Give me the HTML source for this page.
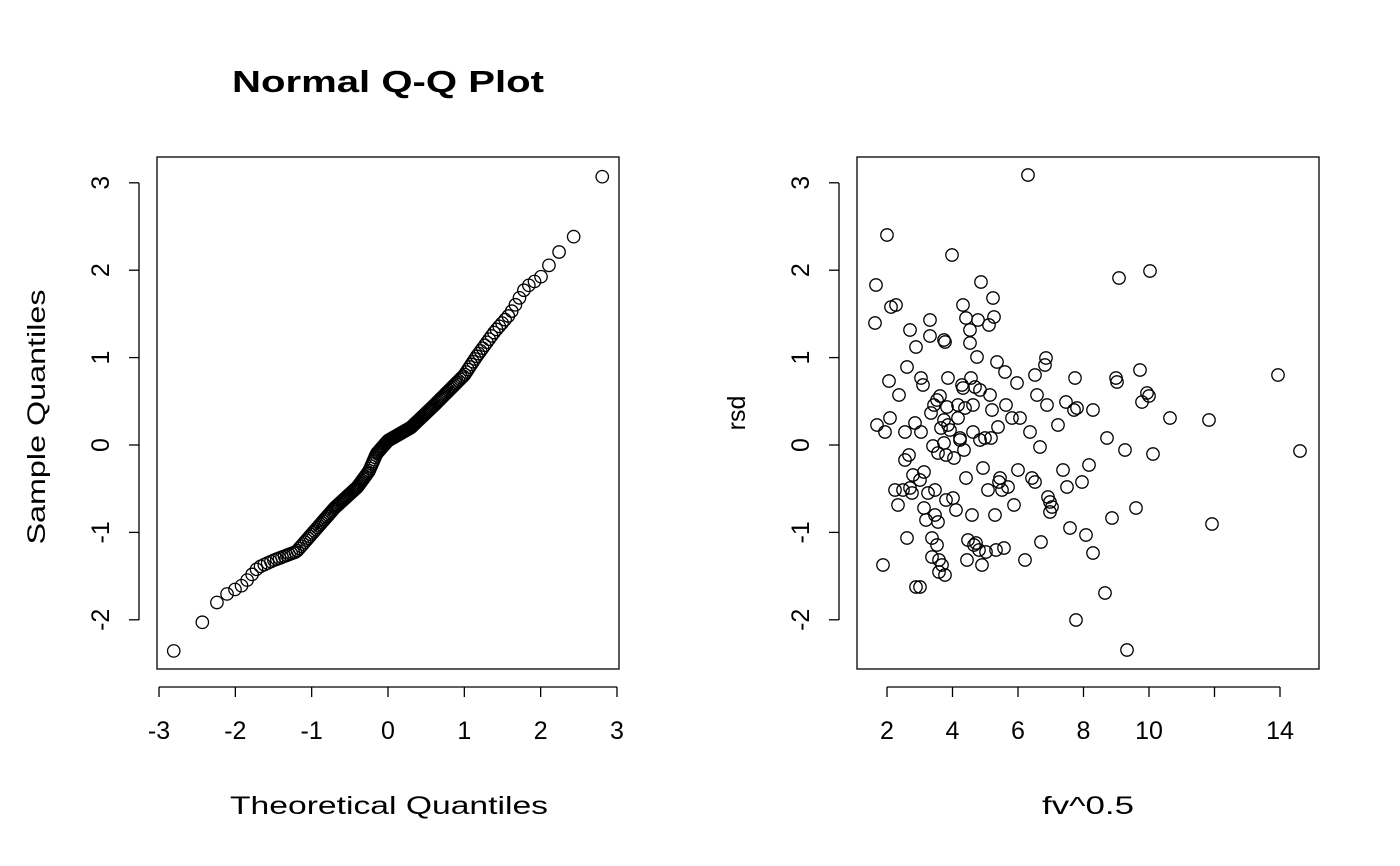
<!DOCTYPE html>
<html><head><meta charset="utf-8"><style>
html,body{margin:0;padding:0;background:#fff;}
svg{display:block;font-family:"Liberation Sans",sans-serif;}
</style></head><body>
<svg id="s" width="1400" height="866" xmlns="http://www.w3.org/2000/svg">
<rect width="1400" height="866" fill="#fff"/>
<g fill="none" stroke="#000" stroke-width="1.3">
<rect x="157" y="157" width="462" height="512"/>
<rect x="857" y="157" width="462" height="512"/>
<line x1="159" y1="687" x2="617" y2="687"/>
<line x1="139" y1="183" x2="139" y2="620"/>
<line x1="839" y1="183" x2="839" y2="620"/>
<line x1="887" y1="687" x2="1280" y2="687"/>
<g id="ticks"></g>
</g>
<g font-size="25" text-anchor="middle" fill="#000">
<text x="388" y="92" font-size="31" font-weight="bold" textLength="312" lengthAdjust="spacingAndGlyphs">Normal Q-Q Plot</text>
<text x="389" y="814" textLength="318" lengthAdjust="spacingAndGlyphs">Theoretical Quantiles</text>
<text x="1088" y="814" textLength="92" lengthAdjust="spacingAndGlyphs">fv^0.5</text>
<text transform="translate(45,417) rotate(-90)" textLength="255" lengthAdjust="spacingAndGlyphs">Sample Quantiles</text>
<text transform="translate(745,413) rotate(-90)">rsd</text>
<g id="lbl"></g>
</g>
<g id="pts" fill="none" stroke="#000" stroke-width="1.3"></g>
</svg>
<script>
var NS="http://www.w3.org/2000/svg";
function el(p,t,a,txt){var e=document.createElementNS(NS,t);for(var k in a)e.setAttribute(k,a[k]);if(txt!==undefined)e.textContent=txt;document.getElementById(p).appendChild(e);}
var yv=[3,2,1,0,-1,-2];
function Y(v){return 445-87.4*v;}
yv.forEach(function(v){
 [139,839].forEach(function(x){
  el("ticks","line",{x1:x,y1:Y(v),x2:x-10,y2:Y(v)});
  el("lbl","text",{transform:"translate("+(x-30)+","+Y(v)+") rotate(-90)"},String(v));
 });
});
for(var i=-3;i<=3;i++){var x=388+i*76.33;el("ticks","line",{x1:x,y1:687,x2:x,y2:697});el("lbl","text",{x:x,y:739},String(i));}
[2,4,6,8,10,12,14].forEach(function(v){var x=887+(v-2)*32.75;el("ticks","line",{x1:x,y1:687,x2:x,y2:697});if(v!=12)el("lbl","text",{x:x,y:739},String(v));});
var knots=[[-2.8,-2.35],[-2.4,-2.0],[-2.2,-1.75],[-1.9,-1.6],[-1.7,-1.4],[-1.5,-1.32],[-1.2,-1.22],[-1,-1.02],[-0.7,-0.72],[-0.4,-0.48],[-0.25,-0.3],[-0.15,-0.1],[0,0.05],[0.3,0.2],[0.6,0.45],[1.0,0.8],[1.15,1.0],[1.4,1.3],[1.6,1.5],[1.8,1.8],[2.0,1.92],[2.2,2.17],[2.45,2.4],[2.8,3.07]];
function interp(x){for(var i=0;i<knots.length-1;i++){if(x<=knots[i+1][0]){var a=knots[i],b=knots[i+1];return a[1]+(b[1]-a[1])*(x-a[0])/(b[0]-a[0]);}}return knots[knots.length-1][1];}
function qn(p){var a=[-39.6968302866538,220.946098424521,-275.928510446969,138.357751867269,-30.6647980661472,2.50662827745924],b=[-54.4760987982241,161.585836858041,-155.698979859887,66.8013118877197,-13.2806815528857],c=[-0.00778489400243029,-0.322396458041136,-2.40075827716184,-2.54973253934373,4.37466414146497,2.93816398269878],d=[0.00778469570904146,0.32246712907004,2.445134137143,3.75440866190742];var q,r;if(p<0.02425){q=Math.sqrt(-2*Math.log(p));return(((((c[0]*q+c[1])*q+c[2])*q+c[3])*q+c[4])*q+c[5])/((((d[0]*q+d[1])*q+d[2])*q+d[3])*q+1);}if(p>1-0.02425){q=Math.sqrt(-2*Math.log(1-p));return-(((((c[0]*q+c[1])*q+c[2])*q+c[3])*q+c[4])*q+c[5])/((((d[0]*q+d[1])*q+d[2])*q+d[3])*q+1);}q=p-0.5;r=q*q;return(((((a[0]*r+a[1])*r+a[2])*r+a[3])*r+a[4])*r+a[5])*q/(((((b[0]*r+b[1])*r+b[2])*r+b[3])*r+b[4])*r+1);}
var n=200;
for(var i=1;i<=n;i++){var t=qn((i-0.5)/n);if(t<-2.85)t=-2.8;if(t>2.85)t=2.8;el("pts","circle",{cx:388+t*76.33,cy:Y(interp(t)),r:6.2});}
var P=[[877,425],[876,285],[875,323],[883,565],[885,432],[887,235],[889,381],[890,418],[891,307],[896,305],[895,490],[898,505],[899,395],[903,490],[905,460],[905,432],[907,367],[907,538],[909,455],[910,330],[910,488],[912,493],[913,475],[915,423],[916,347],[916,587],[920,587],[920,480],[921,378],[921,432],[923,385],[924,472],[924,508],[926,520],[928,493],[930,320],[930,336],[931,413],[932,538],[932,557],[933,446],[934,405],[935,490],[935,515],[937,400],[937,545],[938,522],[938,453],[939,560],[939,572],[940,396],[941,428],[942,565],[944,340],[944,420],[944,443],[945,575],[945,342],[946,455],[946,500],[947,407],[948,425],[948,378],[950,430],[952,255],[953,498],[954,458],[956,510],[958,418],[958,405],[960,438],[960,440],[962,385],[963,305],[963,388],[964,450],[965,408],[966,318],[966,478],[967,560],[968,540],[970,330],[970,343],[971,378],[972,515],[973,405],[973,432],[974,545],[975,387],[976,543],[977,357],[978,320],[979,550],[980,390],[980,440],[981,282],[982,565],[983,468],[985,438],[986,552],[988,490],[989,325],[990,395],[991,438],[992,410],[993,298],[994,317],[995,515],[996,550],[997,362],[998,427],[999,482],[1000,478],[1002,490],[1004,548],[1005,372],[1006,405],[1008,487],[1012,418],[1014,505],[1017,383],[1018,470],[1020,418],[1025,560],[1028,175],[1030,432],[1032,478],[1035,482],[1035,375],[1037,395],[1040,447],[1041,542],[1045,365],[1046,358],[1047,405],[1048,497],[1050,502],[1050,512],[1052,507],[1058,425],[1063,470],[1066,402],[1067,487],[1070,528],[1074,410],[1075,378],[1076,620],[1077,408],[1082,482],[1086,535],[1089,465],[1093,410],[1093,553],[1105,593],[1107,438],[1112,518],[1116,378],[1117,382],[1119,278],[1125,450],[1136,508],[1140,370],[1142,402],[1147,393],[1149,396],[1150,271],[1153,454],[1170,418],[1209,420],[1212,524],[1278,375],[1300,451],[1127,650]];
P.forEach(function(p){el("pts","circle",{cx:p[0],cy:p[1],r:6.2});});
</script>
</body></html>
